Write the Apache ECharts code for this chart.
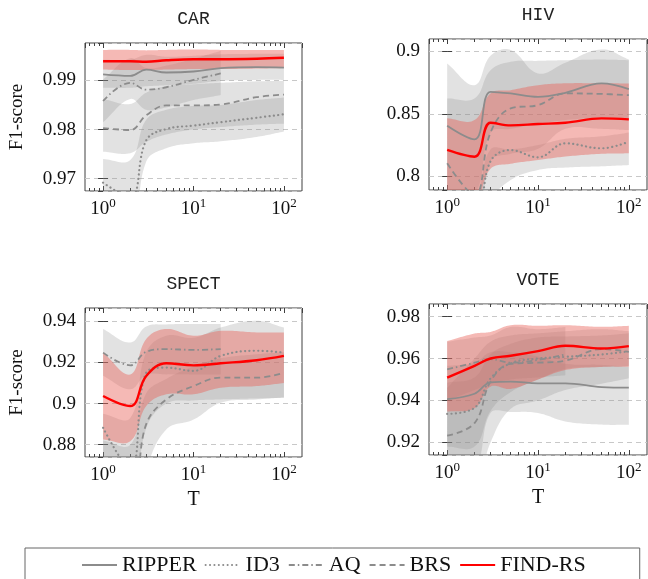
<!DOCTYPE html>
<html>
<head>
<meta charset="utf-8">
<script src="https://cdn.jsdelivr.net/npm/echarts@6/dist/echarts.min.js"></script>
<style>
  html, body { margin: 0; padding: 0; background: #fff; }
  #chart { width: 648px; height: 579px; }
</style>
</head>
<body>
<div id="chart"></div>
<script>
// x values (number of rule sets T)
var T = [1, 2, 3, 5, 10, 20, 50, 100]
var T_AQ = [1, 2, 3, 5, 10, 20]
var T_MINOR = [0.7, 0.8, 0.9, 2, 3, 4, 5, 6, 7, 8, 9, 20, 30, 40, 50, 60, 70, 80, 90]
var X_MIN = 0.631
var X_MAX = 158.5

// ---- CAR ----
var car_ripper = [0.9912, 0.9909, 0.9922, 0.9916, 0.9918, 0.9925, 0.9927, 0.9926]
var car_id3 = [0.9692, 0.9662, 0.9778, 0.9801, 0.9808, 0.9815, 0.9824, 0.9831]
var car_aq = [0.9858, 0.9895, 0.9881, 0.9886, 0.9901, 0.9914]
var car_brs = [0.9803, 0.9799, 0.9829, 0.9849, 0.9849, 0.9851, 0.9866, 0.9871]
var car_find = [0.9939, 0.9939, 0.9938, 0.9941, 0.9943, 0.9943, 0.9944, 0.9946]
var car_ripper_lo = [0.9885, 0.9885, 0.9888, 0.989, 0.9893, 0.9899, 0.9901, 0.9901]
var car_ripper_hi = [0.9942, 0.9942, 0.9952, 0.9948, 0.995, 0.9953, 0.9954, 0.9954]
var car_id3_lo = [0.959, 0.958, 0.9735, 0.9762, 0.9772, 0.9776, 0.9785, 0.9796]
var car_id3_hi = [0.974, 0.9738, 0.982, 0.984, 0.9848, 0.985, 0.986, 0.9865]
var car_aq_lo = [0.9815, 0.9862, 0.984, 0.9845, 0.986, 0.987]
var car_aq_hi = [0.9902, 0.9945, 0.9925, 0.993, 0.9944, 0.996]
var car_brs_lo = [0.9755, 0.9752, 0.9775, 0.979, 0.98, 0.9805, 0.981, 0.9812]
var car_brs_hi = [0.9862, 0.9852, 0.9875, 0.9888, 0.9892, 0.9895, 0.9898, 0.9899]
var car_find_lo = [0.9922, 0.9921, 0.9921, 0.9922, 0.9923, 0.9923, 0.9924, 0.9925]
var car_find_hi = [0.9962, 0.9962, 0.9961, 0.9962, 0.9963, 0.9962, 0.9962, 0.9962]

// ---- HIV ----
var hiv_ripper = [0.8405, 0.8296, 0.8677, 0.8664, 0.8637, 0.8669, 0.8744, 0.8699]
var hiv_id3 = [0.775, 0.765, 0.812, 0.821, 0.8152, 0.8264, 0.8224, 0.8277]
var hiv_brs = [0.8104, 0.785, 0.835, 0.8544, 0.857, 0.8664, 0.866, 0.865]
var hiv_find = [0.8211, 0.8157, 0.8429, 0.8408, 0.8419, 0.8429, 0.8464, 0.8456]
var hiv_ripper_lo = [0.79, 0.786, 0.835, 0.838, 0.842, 0.845, 0.847, 0.845]
var hiv_ripper_hi = [0.8904, 0.873, 0.8965, 0.9012, 0.8824, 0.891, 0.9016, 0.8936]
var hiv_id3_lo = [0.74, 0.74, 0.78, 0.797, 0.805, 0.807, 0.808, 0.809]
var hiv_id3_hi = [0.79, 0.785, 0.8215, 0.8215, 0.825, 0.83, 0.832, 0.835]
var hiv_brs_lo = [0.76, 0.75, 0.812, 0.818, 0.822, 0.838, 0.838, 0.837]
var hiv_brs_hi = [0.8624, 0.8624, 0.885, 0.8917, 0.8925, 0.893, 0.8935, 0.893]
var hiv_find_lo = [0.785, 0.78, 0.806, 0.81, 0.813, 0.8158, 0.818, 0.8184]
var hiv_find_hi = [0.8464, 0.845, 0.8664, 0.869, 0.873, 0.8745, 0.8745, 0.8744]

// ---- SPECT ----
var spect_id3 = [0.8882, 0.868, 0.915, 0.9175, 0.9159, 0.9232, 0.9257, 0.9248]
var spect_aq = [0.9248, 0.9186, 0.9252, 0.9265, 0.9261, 0.9265]
var spect_brs = [0.86, 0.855, 0.89, 0.902, 0.9085, 0.9126, 0.9126, 0.915]
var spect_find = [0.9037, 0.8988, 0.9134, 0.9196, 0.9186, 0.9196, 0.9211, 0.9232]
var spect_id3_lo = [0.855, 0.85, 0.888, 0.9, 0.9015, 0.902, 0.9025, 0.9028]
var spect_id3_hi = [0.895, 0.893, 0.925, 0.933, 0.932, 0.937, 0.9403, 0.937]
var spect_aq_lo = [0.9135, 0.907, 0.914, 0.9142, 0.9142, 0.9142]
var spect_aq_hi = [0.9363, 0.9297, 0.9375, 0.9385, 0.9387, 0.9387]
var spect_brs_lo = [0.84, 0.84, 0.868, 0.8874, 0.8922, 0.9004, 0.902, 0.903]
var spect_brs_hi = [0.882, 0.88, 0.905, 0.912, 0.918, 0.922, 0.924, 0.925]
var spect_find_lo = [0.8825, 0.8817, 0.8988, 0.9045, 0.9045, 0.9077, 0.9085, 0.91]
var spect_find_hi = [0.9248, 0.9142, 0.9314, 0.9363, 0.933, 0.9354, 0.9346, 0.9346]

// ---- VOTE ----
var vote_ripper = [0.9406, 0.9432, 0.9486, 0.949, 0.9482, 0.9482, 0.9464, 0.9461]
var vote_id3 = [0.9336, 0.9365, 0.9505, 0.9577, 0.96, 0.9608, 0.9619, 0.9635]
var vote_aq = [0.9548, 0.958, 0.9597, 0.958, 0.9593, 0.962]
var vote_brs = [0.9232, 0.9292, 0.949, 0.9575, 0.958, 0.959, 0.9645, 0.9632]
var vote_find = [0.9509, 0.9565, 0.96, 0.9613, 0.9635, 0.9661, 0.9648, 0.9659]
var vote_ripper_lo = [0.912, 0.908, 0.934, 0.9345, 0.934, 0.93, 0.9285, 0.9284]
var vote_ripper_hi = [0.9565, 0.958, 0.963, 0.963, 0.961, 0.9575, 0.957, 0.956]
var vote_id3_lo = [0.918, 0.918, 0.935, 0.944, 0.95, 0.955, 0.956, 0.9565]
var vote_id3_hi = [0.9485, 0.951, 0.962, 0.967, 0.97, 0.9705, 0.971, 0.972]
var vote_aq_lo = [0.94, 0.945, 0.948, 0.95, 0.951, 0.952]
var vote_aq_hi = [0.968, 0.97, 0.971, 0.975, 0.974, 0.975]
var vote_brs_lo = [0.9, 0.898, 0.92, 0.936, 0.94, 0.945, 0.948, 0.9506]
var vote_brs_hi = [0.946, 0.96, 0.968, 0.971, 0.972, 0.973, 0.974, 0.973]
var vote_find_lo = [0.9347, 0.9363, 0.9466, 0.9455, 0.95, 0.9545, 0.956, 0.9561]
var vote_find_hi = [0.9683, 0.9719, 0.9727, 0.9759, 0.9756, 0.9759, 0.9751, 0.9756]

var methods = ['RIPPER', 'ID3', 'AQ', 'BRS', 'FIND-RS']

var SERIF = "'Liberation Serif', 'Times New Roman', serif"
var MONO = "'Liberation Mono', 'DejaVu Sans Mono', monospace"
var GRAY = '#8c8c8c'
var RED = '#ff0000'
var BAND_GRAY = 'rgba(140,140,140,0.25)'
var BAND_RED = 'rgba(233,100,90,0.45)'
var FRAME = '#404040'
var SM = 0.4

var lineStyles = {
  'RIPPER': { color: GRAY, width: 1.8, type: 'solid' },
  'ID3': { color: GRAY, width: 2.2, type: [0.1, 4.3], cap: 'round' },
  'AQ': { color: GRAY, width: 1.8, type: [6, 3, 1.5, 3] },
  'BRS': { color: GRAY, width: 1.8, type: [6, 4] },
  'FIND-RS': { color: RED, width: 2.4, type: 'solid' }
}

// one entry per subplot; each method -> [xs, mean, lo, hi]
var panels = [
  {
    title: 'CAR', ymin: 0.9675, ymax: 0.9976, split: 3,
    grid: { left: 85, top: 43, width: 217, height: 148 },
    ylabel: true, xlabel: false,
    data: {
      'RIPPER': [T, car_ripper, car_ripper_lo, car_ripper_hi],
      'ID3': [T, car_id3, car_id3_lo, car_id3_hi],
      'AQ': [T_AQ, car_aq, car_aq_lo, car_aq_hi],
      'BRS': [T, car_brs, car_brs_lo, car_brs_hi],
      'FIND-RS': [T, car_find, car_find_lo, car_find_hi]
    }
  },
  {
    title: 'HIV', ymin: 0.789, ymax: 0.910, split: 3,
    grid: { left: 429, top: 39, width: 218, height: 151 },
    ylabel: false, xlabel: false,
    data: {
      'RIPPER': [T, hiv_ripper, hiv_ripper_lo, hiv_ripper_hi],
      'ID3': [T, hiv_id3, hiv_id3_lo, hiv_id3_hi],
      'BRS': [T, hiv_brs, hiv_brs_lo, hiv_brs_hi],
      'FIND-RS': [T, hiv_find, hiv_find_lo, hiv_find_hi]
    }
  },
  {
    title: 'SPECT', ymin: 0.874, ymax: 0.9465, split: 4,
    grid: { left: 85, top: 308, width: 217, height: 149 },
    ylabel: true, xlabel: true,
    data: {
      'ID3': [T, spect_id3, spect_id3_lo, spect_id3_hi],
      'AQ': [T_AQ, spect_aq, spect_aq_lo, spect_aq_hi],
      'BRS': [T, spect_brs, spect_brs_lo, spect_brs_hi],
      'FIND-RS': [T, spect_find, spect_find_lo, spect_find_hi]
    }
  },
  {
    title: 'VOTE', ymin: 0.914, ymax: 0.986, split: 4,
    grid: { left: 429, top: 304, width: 218, height: 151 },
    ylabel: false, xlabel: true,
    data: {
      'RIPPER': [T, vote_ripper, vote_ripper_lo, vote_ripper_hi],
      'ID3': [T, vote_id3, vote_id3_lo, vote_id3_hi],
      'AQ': [T_AQ, vote_aq, vote_aq_lo, vote_aq_hi],
      'BRS': [T, vote_brs, vote_brs_lo, vote_brs_hi],
      'FIND-RS': [T, vote_find, vote_find_lo, vote_find_hi]
    }
  }
]

function pts (xs, ys) {
  return xs.map(function (x, i) { return [x, ys[i]] })
}

// smooth a pixel polyline into many points (bezier like zrender smoothing)
function smoothPoly (P, s) {
  var n = P.length
  var before = []
  var after = []
  for (var i = 0; i < n; i++) {
    var prev = P[i - 1] || P[i]
    var next = P[i + 1] || P[i]
    var vx = (next[0] - prev[0]) * s
    var vy = (next[1] - prev[1]) * s
    var d0 = Math.hypot(P[i][0] - prev[0], P[i][1] - prev[1])
    var d1 = Math.hypot(next[0] - P[i][0], next[1] - P[i][1])
    var sum = d0 + d1
    if (sum > 0) { d0 /= sum; d1 /= sum }
    before.push([P[i][0] - vx * d0, P[i][1] - vy * d0])
    after.push([P[i][0] + vx * d1, P[i][1] + vy * d1])
  }
  var out = [P[0]]
  for (var j = 0; j < n - 1; j++) {
    var p0 = P[j], c1 = after[j], c2 = before[j + 1], p1 = P[j + 1]
    for (var k = 1; k <= 16; k++) {
      var t = k / 16, u = 1 - t
      out.push([
        u * u * u * p0[0] + 3 * u * u * t * c1[0] + 3 * u * t * t * c2[0] + t * t * t * p1[0],
        u * u * u * p0[1] + 3 * u * u * t * c1[1] + 3 * u * t * t * c2[1] + t * t * t * p1[1]
      ])
    }
  }
  return out
}

function bandSeries (gi, name, xs, lo, hi, fill) {
  return {
    type: 'custom', name: name, xAxisIndex: gi, yAxisIndex: gi, silent: true, z: 1,
    encode: { x: 0, y: [1, 2] },
    data: xs.map(function (x, i) { return [x, lo[i], hi[i]] }),
    renderItem: function (params, api) {
      if (params.dataIndex !== 0) return null
      var up = smoothPoly(xs.map(function (x, i) { return api.coord([x, hi[i]]) }), SM)
      var dn = smoothPoly(xs.map(function (x, i) { return api.coord([x, lo[i]]) }), SM)
      var cs = params.coordSys
      return {
        type: 'group',
        clipPath: { type: 'rect', shape: { x: cs.x, y: cs.y, width: cs.width, height: cs.height } },
        children: [{
          type: 'polygon',
          shape: { points: up.concat(dn.reverse()) },
          style: { fill: fill, stroke: null }
        }]
      }
    }
  }
}

var grids = []
var xAxes = []
var yAxes = []
var titles = []
var series = []

var tickStyle = { show: true, inside: true, length: 5, lineStyle: { color: FRAME } }
// minor ticks are placed on a linear axis that spans log10 of the x range
var minorStyle = { show: true, inside: true, length: 3, customValues: T_MINOR.map(Math.log10), lineStyle: { color: FRAME } }

panels.forEach(function (p, gi) {
  var g = p.grid
  grids.push({ left: g.left, top: g.top, width: g.width, height: g.height,
    show: true, borderColor: FRAME, borderWidth: 1, backgroundColor: 'transparent' })
  titles.push({
    text: p.title, left: g.left + g.width / 2, top: g.top - 33, textAlign: 'center', padding: 0,
    textStyle: { fontFamily: MONO, fontSize: 18, fontWeight: 'normal', color: '#222' }
  })
  xAxes.push({
    gridIndex: gi, type: 'log', logBase: 10, min: X_MIN, max: X_MAX,
    name: p.xlabel ? 'T' : '', nameLocation: 'middle', nameGap: 33,
    nameTextStyle: { fontFamily: SERIF, fontSize: 20, color: '#111' },
    axisLine: { show: false },
    axisTick: tickStyle,
    splitLine: { show: false },
    axisLabel: {
      margin: 6, showMinLabel: false, showMaxLabel: false,
      formatter: function (v) {
        return '{b|10}{s|' + Math.round(Math.log10(v)) + '}'
      },
      rich: {
        b: { fontFamily: SERIF, fontSize: 19, color: '#111', verticalAlign: 'bottom', lineHeight: 22 },
        s: { fontFamily: SERIF, fontSize: 13, color: '#111', verticalAlign: 'top', lineHeight: 14 }
      }
    }
  })
  yAxes.push({
    gridIndex: gi, type: 'value', min: p.ymin, max: p.ymax, splitNumber: p.split,
    name: p.ylabel ? 'F1-score' : '', nameLocation: 'middle', nameGap: 58, nameRotate: 90,
    nameTextStyle: { fontFamily: SERIF, fontSize: 19, color: '#111' },
    axisLine: { show: false },
    axisTick: tickStyle,
    splitLine: { show: true, lineStyle: { color: '#c8c8c8', width: 1, type: [5, 4] } },
    axisLabel: {
      margin: 9, showMinLabel: false, showMaxLabel: false,
      fontFamily: SERIF, fontSize: 19, color: '#111',
      formatter: function (v) { return String(+v.toFixed(3)) }
    }
  })

  // gray bands first, then red band, then lines
  methods.forEach(function (m) {
    var d = p.data[m]
    if (!d) return
    series.push(bandSeries(gi, m + ' band', d[0], d[2], d[3], m === 'FIND-RS' ? BAND_RED : BAND_GRAY))
  })
  methods.forEach(function (m) {
    var d = p.data[m]
    if (!d) return
    series.push({
      type: 'line', name: m, xAxisIndex: gi, yAxisIndex: gi,
      data: pts(d[0], d[1]), smooth: SM, symbol: 'none', silent: true,
      lineStyle: lineStyles[m], itemStyle: { color: lineStyles[m].color },
      z: m === 'FIND-RS' ? 4 : 3
    })
  })
})

// extra axes: ticks on the top edge, right edge and minor ticks
panels.forEach(function (p, gi) {
  var hidden = { axisLine: { show: false }, axisLabel: { show: false }, splitLine: { show: false } }
  xAxes.push(Object.assign({ gridIndex: gi, type: 'log', logBase: 10, min: X_MIN, max: X_MAX,
    position: 'top', axisTick: tickStyle }, hidden))
  xAxes.push(Object.assign({ gridIndex: gi, type: 'value', min: Math.log10(X_MIN), max: Math.log10(X_MAX),
    position: 'bottom', axisTick: minorStyle }, hidden))
  xAxes.push(Object.assign({ gridIndex: gi, type: 'value', min: Math.log10(X_MIN), max: Math.log10(X_MAX),
    position: 'top', axisTick: minorStyle }, hidden))
  yAxes.push(Object.assign({ gridIndex: gi, type: 'value', min: p.ymin, max: p.ymax, splitNumber: p.split,
    position: 'right', axisTick: tickStyle }, hidden))
})

var option = {
  animation: false,
  backgroundColor: '#fff',
  title: titles,
  grid: grids,
  xAxis: xAxes,
  yAxis: yAxes,
  legend: {
    data: methods,
    left: 25, top: 548,
    padding: [6, 54, 10, 56],
    borderColor: '#666', borderWidth: 1,
    itemWidth: 35, itemHeight: 14, itemGap: 8,
    itemStyle: { opacity: 0 },
    textStyle: { fontFamily: SERIF, fontSize: 22, color: '#111' }
  },
  series: series
}

var myChart = echarts.init(document.getElementById('chart'), null, { renderer: 'canvas' })
myChart.setOption(option)
</script>
</body>
</html>
